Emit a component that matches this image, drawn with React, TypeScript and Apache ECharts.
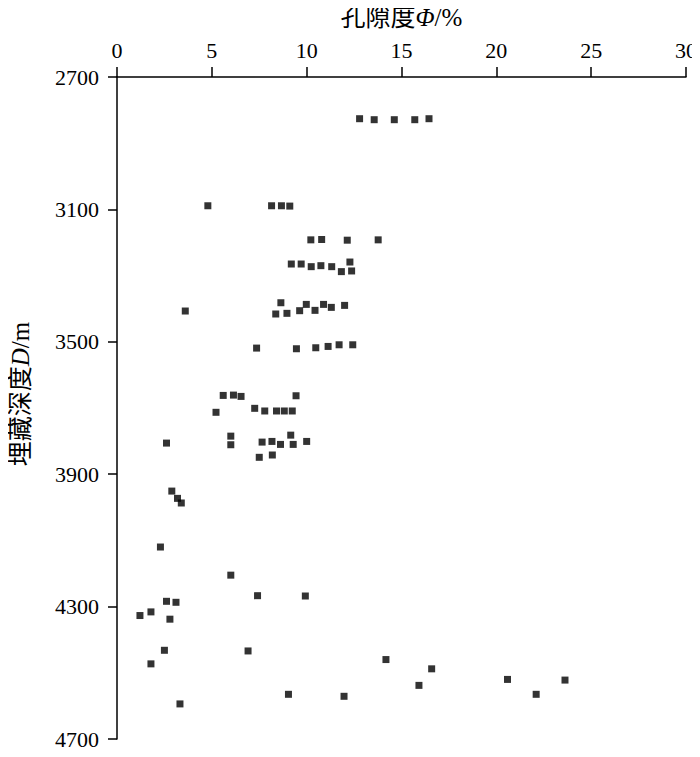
import React, { useEffect, useRef } from "react";
import * as echarts from "echarts";

const porosity: number[] = [
  12.79, 13.56, 14.62, 15.70, 16.45,
  4.79, 8.15, 8.67, 9.11,
  10.22, 10.79, 12.14, 13.77,
  9.19, 9.71, 10.24, 10.75, 11.32, 11.83, 12.37, 12.28,
  3.60, 8.64, 8.37, 8.96, 9.63, 9.98, 10.44, 10.89, 11.30, 12.00,
  7.36, 9.46, 10.48, 11.13, 11.71, 12.43,
  5.60, 6.14, 6.54, 9.44,
  5.22, 7.26, 7.79, 8.41, 8.82, 9.24,
  2.61, 6.00, 6.00, 7.65, 8.17, 8.62, 9.16, 9.29, 10.00, 7.50, 8.19,
  2.89, 3.19, 3.39, 2.29, 6.00, 7.41, 9.93, 2.61, 3.11, 1.21, 1.79, 2.79,
  2.50, 6.91, 1.79, 14.18, 9.04, 11.97, 3.32, 16.59, 15.92, 20.59, 23.62, 22.10,
];

const depth: number[] = [
  2826, 2829, 2829, 2829, 2826,
  3089, 3089, 3089, 3090,
  3192, 3191, 3193, 3192,
  3265, 3265, 3273, 3270, 3273, 3288, 3286, 3259,
  3407, 3382, 3416, 3414, 3406, 3387, 3405, 3387, 3396, 3390,
  3519, 3521, 3518, 3514, 3509, 3509,
  3662, 3661, 3665, 3663,
  3713, 3701, 3709, 3709, 3709, 3709,
  3806, 3785, 3811, 3803, 3801, 3810, 3782, 3810, 3801, 3849, 3842,
  3951, 3973, 3987, 4120, 4205, 4267, 4268, 4284, 4287, 4327, 4316, 4338,
  4432, 4434, 4473, 4460, 4565, 4571, 4594, 4488, 4538, 4520, 4522, 4565,
];

const xTitle = "孔隙度{i|Φ}/%";
const yTitle = "埋藏深度{i|D}/m";

const FONT = "Liberation Serif, Noto Sans CJK SC, serif";

export default function App() {
  const ref = useRef<HTMLDivElement>(null);
  useEffect(() => {
    if (!ref.current) return;
    const chart = echarts.init(ref.current, undefined, { renderer: "svg" });
    const points = porosity.map((p, i) => [p, depth[i]]);
    chart.setOption({
      animation: false,
      backgroundColor: "#fff",
      grid: { left: 113, right: 12, top: 77, bottom: 18, containLabel: false },
      xAxis: {
        type: "value",
        position: "top",
        min: 0,
        max: 30,
        interval: 5,
        name: xTitle,
        nameLocation: "middle",
        nameGap: 47,
        nameTextStyle: {
          fontFamily: FONT,
          fontSize: 25,
          color: "#000",
          rich: { i: { fontStyle: "italic", fontSize: 25, fontFamily: FONT, color: "#000" } },
        },
        axisLine: { show: true, lineStyle: { color: "#000", width: 1.5 } },
        axisTick: { show: true, inside: false, length: 10, lineStyle: { color: "#000", width: 1.5 } },
        axisLabel: { fontFamily: FONT, fontSize: 22, color: "#000", margin: 16, formatter: (v: number) => String(v) },
        splitLine: { show: false },
      },
      yAxis: {
        type: "value",
        inverse: true,
        min: 2700,
        max: 4700,
        interval: 400,
        name: yTitle,
        nameLocation: "middle",
        nameGap: 84,
        nameTextStyle: {
          fontFamily: FONT,
          fontSize: 25,
          color: "#000",
          padding: [0, 0, 0, 28],
          rich: { i: { fontStyle: "italic", fontSize: 25, fontFamily: FONT, color: "#000" } },
        },
        axisLine: { show: true, lineStyle: { color: "#000", width: 1.5 } },
        axisTick: { show: true, inside: false, length: 9, lineStyle: { color: "#000", width: 1.5 } },
        axisLabel: { fontFamily: FONT, fontSize: 22, color: "#000", margin: 18, formatter: (v: number) => String(v) },
        splitLine: { show: false },
      },
      series: [
        {
          type: "scatter",
          data: points,
          symbol: "rect",
          symbolSize: 7,
          itemStyle: { color: "#000" },
        },
      ],
    });
    return () => chart.dispose();
  }, []);
  return <div ref={ref} style={{ width: 700, height: 757, margin: -8 }} />;
}
